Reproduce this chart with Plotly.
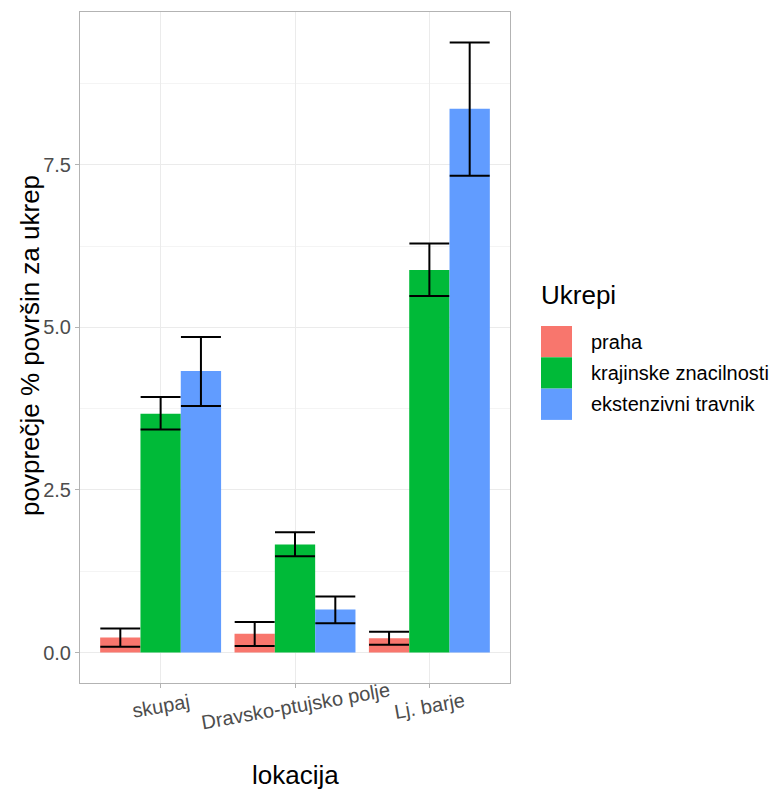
import plotly.graph_objects as go

lokacije = ["skupaj", "Dravsko-ptujsko polje", "Lj. barje"]
ukrepi = ["praha", "krajinske znacilnosti", "ekstenzivni travnik"]
barve = ["#F8766D", "#00BA38", "#619CFF"]

povprecje = {
    "praha": [0.23, 0.29, 0.22],
    "krajinske znacilnosti": [3.67, 1.66, 5.88],
    "ekstenzivni travnik": [4.33, 0.66, 8.36],
}
zgornja = {
    "praha": [0.37, 0.47, 0.32],
    "krajinske znacilnosti": [3.93, 1.85, 6.29],
    "ekstenzivni travnik": [4.85, 0.86, 9.38],
}
spodnja = {
    "praha": [0.09, 0.10, 0.12],
    "krajinske znacilnosti": [3.43, 1.48, 5.48],
    "ekstenzivni travnik": [3.79, 0.45, 7.33],
}

# page body has an 8px margin; panel wanted at x 80..510, y 12..683
OFF = 8
PL, PR, PT, PB = 80, 510, 12, 683
PW, PH = PR - PL, PB - PT


def px(xp):
    return (xp - PL) / PW


def py(yp):
    return (PB - yp) / PH


fig = go.Figure()
for u, c in zip(ukrepi, barve):
    m = povprecje[u]
    fig.add_trace(go.Bar(
        x=lokacije, y=m, name=u, marker=dict(color=c, line=dict(width=0)),
        error_y=dict(type="data", symmetric=False,
                     array=[h - v for h, v in zip(zgornja[u], m)],
                     arrayminus=[v - l for l, v in zip(spodnja[u], m)],
                     color="black", thickness=2, width=20),
        showlegend=False,
    ))

ymax = max(max(v) for v in zgornja.values())
pad = ymax * 0.05

fig.update_layout(
    width=777, height=789,
    margin=dict(l=PL - OFF, r=777 - PW - (PL - OFF), t=PT - OFF, b=789 - PH - (PT - OFF)),
    paper_bgcolor="white", plot_bgcolor="white",
    barmode="group", bargap=0.1, bargroupgap=0,
    font=dict(family="Liberation Sans, Arial, sans-serif", color="black"),
    xaxis=dict(
        range=[-0.6, 2.6], showgrid=True, gridcolor="#ebebeb", gridwidth=1,
        ticks="outside", ticklen=4, tickcolor="#b3b3b3",
        showticklabels=False,
        showline=True, linecolor="#b3b3b3", mirror=True, zeroline=False,
    ),
    yaxis=dict(
        range=[-pad, ymax + pad], tickvals=[0, 2.5, 5, 7.5], tickformat=".1f",
        showgrid=True, gridcolor="#ebebeb", gridwidth=1,
        minor=dict(tickvals=[1.25, 3.75, 6.25, 8.75], showgrid=True, gridcolor="#f4f4f4", gridwidth=1),
        ticks="outside", ticklen=4, tickcolor="#b3b3b3",
        tickfont=dict(size=20, color="#4d4d4d"),
        showline=True, linecolor="#b3b3b3", mirror=True, zeroline=False,
    ),
)

# rotated x tick labels, centred under each category
for lok in lokacije:
    fig.add_annotation(xref="x", yref="paper", x=lok, y=py(706), text=lok,
                       textangle=-10, showarrow=False, xanchor="center", yanchor="middle",
                       font=dict(size=20, color="#4d4d4d"))

# axis titles
fig.add_annotation(xref="paper", yref="paper", x=0.5, y=py(775), text="lokacija",
                   showarrow=False, xanchor="center", yanchor="middle",
                   font=dict(size=26, color="black"))
fig.add_annotation(xref="paper", yref="paper", x=px(30), y=py(346),
                   text="povprečje % površin za ukrep", textangle=-90,
                   showarrow=False, xanchor="center", yanchor="middle",
                   font=dict(size=26, color="black"))

# legend (ggplot-style keys)
fig.add_annotation(xref="paper", yref="paper", x=px(539), y=py(295),
                   text="Ukrepi", showarrow=False, xanchor="left", yanchor="middle",
                   font=dict(size=26, color="black"))
top_px = 326
key_h = 31.3
for i, (u, c) in enumerate(zip(ukrepi, barve)):
    y0 = top_px + i * key_h
    fig.add_shape(type="rect", xref="paper", yref="paper",
                  x0=px(541), x1=px(572), y0=py(y0), y1=py(y0 + key_h),
                  fillcolor=c, line=dict(width=0))
    fig.add_annotation(xref="paper", yref="paper", x=px(589),
                       y=py(y0 + key_h / 2), text=u, showarrow=False,
                       xanchor="left", yanchor="middle", font=dict(size=20, color="black"))

fig.write_html("out.html")
